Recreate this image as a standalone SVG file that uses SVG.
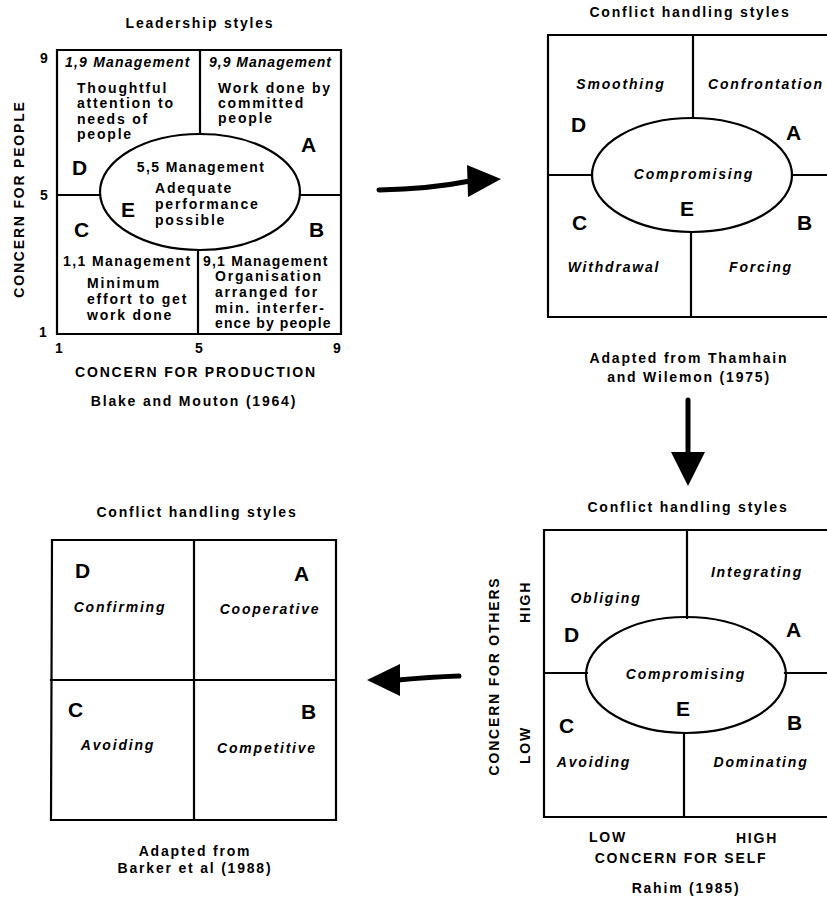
<svg xmlns="http://www.w3.org/2000/svg" width="827" height="899" viewBox="0 0 827 899">
<style>
.t{font-family:"Liberation Sans",Arial,Helvetica,sans-serif;font-weight:bold;font-size:14px;letter-spacing:1.8px;fill:#000}
.i{font-style:italic}
.m{text-anchor:middle}
.big{font-size:21px;letter-spacing:0}
.ln{fill:none;stroke:#000;stroke-width:2.2;stroke-linecap:square}
.ar{fill:none;stroke:#000;stroke-width:5;stroke-linecap:round}
</style>
<rect width="827" height="899" fill="#fff"/>

<g id="leadership">
  <text class="t m" x="200" y="28">Leadership styles</text>
  <path class="ln" d="M57,50 H341 V334 H57 Z M200,50 V134 M198,250 V334 M57,195 H100 M300,195 H341"/>
  <ellipse class="ln" cx="200" cy="192" rx="100" ry="58"/>
  <text class="t" x="40" y="63">9</text>
  <text class="t" x="40" y="200">5</text>
  <text class="t" x="39" y="337">1</text>
  <text class="t" x="55" y="353">1</text>
  <text class="t" x="195" y="353">5</text>
  <text class="t" x="333" y="353">9</text>
  <text class="t m" x="196" y="377">CONCERN FOR PRODUCTION</text>
  <text class="t m" x="194" y="406">Blake and Mouton (1964)</text>
  <text class="t m" transform="translate(24,199) rotate(-90)">CONCERN FOR PEOPLE</text>
  <text class="t i" x="65" y="67" style="letter-spacing:1.2px">1,9 Management</text>
  <text class="t i" x="209" y="67" style="letter-spacing:1px">9,9 Management</text>
  <text class="t" x="77" y="93">Thoughtful</text>
  <text class="t" x="77" y="108">attention to</text>
  <text class="t" x="77" y="124">needs of</text>
  <text class="t" x="77" y="139">people</text>
  <text class="t" x="218" y="93">Work done by</text>
  <text class="t" x="218" y="108">committed</text>
  <text class="t" x="218" y="123">people</text>
  <text class="t big" x="301" y="152">A</text>
  <text class="t big" x="72" y="175">D</text>
  <text class="t m" x="201" y="172" style="letter-spacing:1.4px">5,5 Management</text>
  <text class="t" x="155" y="193">Adequate</text>
  <text class="t" x="155" y="209">performance</text>
  <text class="t" x="155" y="225">possible</text>
  <text class="t big" x="121" y="217">E</text>
  <text class="t big" x="74" y="237">C</text>
  <text class="t big" x="309" y="237">B</text>
  <text class="t" x="63" y="266" style="letter-spacing:1.4px">1,1 Management</text>
  <text class="t" x="203" y="266" style="letter-spacing:1.2px">9,1 Management</text>
  <text class="t" x="215" y="281">Organisation</text>
  <text class="t" x="215" y="297">arranged for</text>
  <text class="t" x="215" y="313">min. interfer-</text>
  <text class="t" x="215" y="328" style="letter-spacing:1.1px">ence by people</text>
  <text class="t" x="87" y="288">Minimum</text>
  <text class="t" x="87" y="304">effort to get</text>
  <text class="t" x="87" y="320">work done</text>
</g>

<g id="thamhain">
  <text class="t m" x="690" y="17">Conflict handling styles</text>
  <path class="ln" d="M830,35 H548 V317 H830 M693,35 V118 M691,232 V317 M548,175 H592 M792,175 H830"/>
  <ellipse class="ln" cx="692" cy="175" rx="100" ry="57"/>
  <text class="t i m" x="621" y="89">Smoothing</text>
  <text class="t i m" x="766" y="89">Confrontation</text>
  <text class="t big" x="571" y="132">D</text>
  <text class="t big" x="786" y="140">A</text>
  <text class="t i m" x="694" y="179">Compromising</text>
  <text class="t big" x="680" y="216">E</text>
  <text class="t big" x="572" y="230">C</text>
  <text class="t big" x="797" y="230">B</text>
  <text class="t i m" x="614" y="272">Withdrawal</text>
  <text class="t i m" x="761" y="272">Forcing</text>
  <text class="t m" x="689" y="363">Adapted from Thamhain</text>
  <text class="t m" x="689" y="382">and Wilemon (1975)</text>
</g>

<g id="rahim">
  <text class="t m" x="688" y="512">Conflict handling styles</text>
  <path class="ln" d="M830,530 H544 V817 H830 M687,530 V618 M684,733 V817 M544,673 H587 M785,673 H830"/>
  <ellipse class="ln" cx="686" cy="675" rx="100" ry="58"/>
  <text class="t i m" x="757" y="577">Integrating</text>
  <text class="t i m" x="606" y="603">Obliging</text>
  <text class="t big" x="564" y="642">D</text>
  <text class="t big" x="786" y="637">A</text>
  <text class="t i m" x="686" y="679">Compromising</text>
  <text class="t big" x="676" y="716">E</text>
  <text class="t big" x="559" y="733">C</text>
  <text class="t big" x="787" y="730">B</text>
  <text class="t i m" x="594" y="767">Avoiding</text>
  <text class="t i m" x="761" y="767">Dominating</text>
  <text class="t m" x="608" y="842">LOW</text>
  <text class="t m" x="757" y="843">HIGH</text>
  <text class="t m" x="681" y="863">CONCERN FOR SELF</text>
  <text class="t m" x="686" y="893">Rahim (1985)</text>
  <text class="t m" transform="translate(499,676) rotate(-90)">CONCERN FOR OTHERS</text>
  <text class="t m" transform="translate(530,602) rotate(-90)">HIGH</text>
  <text class="t m" transform="translate(530,745) rotate(-90)">LOW</text>
</g>

<g id="barker">
  <text class="t m" x="197" y="517">Conflict handling styles</text>
  <path class="ln" d="M52,540 H336 V820 H51 Z M194,540 V820 M51,680 H336"/>
  <text class="t big" x="75" y="578">D</text>
  <text class="t big" x="294" y="581">A</text>
  <text class="t i m" x="120" y="612">Confirming</text>
  <text class="t i m" x="270" y="614">Cooperative</text>
  <text class="t big" x="68" y="717">C</text>
  <text class="t big" x="301" y="719">B</text>
  <text class="t i m" x="118" y="750">Avoiding</text>
  <text class="t i m" x="267" y="753">Competitive</text>
  <text class="t m" x="195" y="856">Adapted from</text>
  <text class="t m" x="195" y="873">Barker et al (1988)</text>
</g>

<g id="connectors">
  <path class="ar" d="M379,190 Q430,189 470,181"/>
  <polygon points="467,165 501,179 468,197" fill="#000"/>
  <path class="ar" d="M688,400 V455"/>
  <polygon points="671,452 705,452 688,486" fill="#000"/>
  <path class="ar" d="M459,676 Q430,677 398,680"/>
  <polygon points="400,664 367,680 400,696" fill="#000"/>
</g>
</svg>
